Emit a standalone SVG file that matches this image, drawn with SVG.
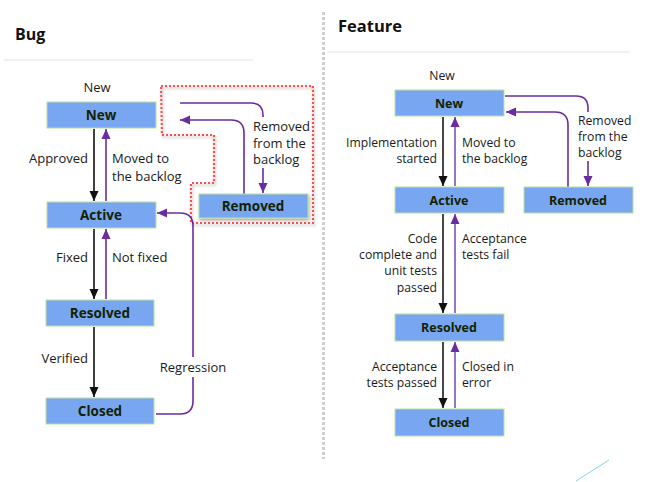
<svg xmlns="http://www.w3.org/2000/svg" width="660" height="482" viewBox="0 0 660 482">
<defs>
<marker id="ak" markerUnits="userSpaceOnUse" markerWidth="10" markerHeight="10" refX="10" refY="5" orient="auto"><path d="M0,0.5 L10,5 L0,9.5 z" fill="#111"/></marker>
<marker id="ap" markerUnits="userSpaceOnUse" markerWidth="10" markerHeight="10" refX="10" refY="5" orient="auto"><path d="M0,0.5 L10,5 L0,9.5 z" fill="#6a2c9e"/></marker>
<filter id="sh" x="-20%" y="-50%" width="140%" height="200%"><feGaussianBlur in="SourceAlpha" stdDeviation="1.5"/><feOffset dx="1" dy="2"/><feComponentTransfer><feFuncA type="linear" slope="0.35"/></feComponentTransfer><feMerge><feMergeNode/><feMergeNode in="SourceGraphic"/></feMerge></filter>
</defs>
<style>
.box{fill:#79a6f1;stroke:#b8e29a;stroke-width:1}
.bl{font-family:"Open Sans","Noto Sans",sans-serif;font-weight:bold;fill:#142200;text-anchor:middle}
.b1{font-size:13.5px}
.f1{font-size:12.5px}
.lb{font-family:"Open Sans","Noto Sans",sans-serif;fill:#1a1a1a;font-size:13px}
.lf{font-family:"Open Sans","Noto Sans",sans-serif;fill:#1a1a1a;font-size:12.2px}
.r{text-anchor:end}
.m{text-anchor:middle}
.k{stroke:#111;stroke-width:1.6;fill:none}
.kf{stroke:#333;stroke-width:1.8;fill:none}
.p{stroke:#6a2c9e;stroke-width:1.6;fill:none}
.pf{stroke:#8a68c0;stroke-width:1.8;fill:none}
.t{font-family:"Open Sans","Noto Sans",sans-serif;font-weight:bold;fill:#111}
</style>
<rect width="660" height="482" fill="#fff"/>
<g id="titles">
<text class="t" x="15" y="40" font-size="16">Bug</text>
<line x1="4" y1="60" x2="253" y2="60" stroke="#e3e3e3" stroke-width="1.2"/>
<text class="t" x="338" y="32" font-size="16.5">Feature</text>
<line x1="327" y1="52" x2="630" y2="52" stroke="#e3e3e3" stroke-width="1.2"/>
<line x1="323.5" y1="12" x2="323.5" y2="459" stroke="#cfcfcf" stroke-width="3" stroke-dasharray="3 2"/>
<line x1="609" y1="460" x2="576" y2="481" stroke="#88d4f0" stroke-width="1"/>
</g>
<path id="highlight" d="M161,86 H313 V223 H191 V183 H214 V135 H162 Z" fill="none" stroke="#ff5050" stroke-width="2.2" stroke-dasharray="2 2" filter="url(#sh)"/>
<g id="connectors">
<path class="k" d="M94,129 V201" marker-end="url(#ak)"/>
<path class="p" d="M106,201 V129" marker-end="url(#ap)"/>
<path class="k" d="M94,229 V299" marker-end="url(#ak)"/>
<path class="p" d="M106,299 V229" marker-end="url(#ap)"/>
<path class="k" d="M94,327 V397" marker-end="url(#ak)"/>
<path class="p" d="M156,414 H180 Q193,414 193,401 V377"/>
<path class="p" d="M193,357 V226 Q193,213 180,213 H157" marker-end="url(#ap)"/>
<path class="p" d="M155,313 H193" stroke-width="2.4" marker-end="url(#ap)" filter="url(#sh)"/>
<path class="p" d="M180,103 H251 Q263,103 263,115 V117"/>
<path class="p" d="M263,168 V193" marker-end="url(#ap)"/>
<path class="p" d="M244,194 V133 Q244,120 231,120 H180" marker-end="url(#ap)"/>
<path class="kf" d="M443,117 V186" marker-end="url(#ak)"/>
<path class="pf" d="M455,186 V117" marker-end="url(#ap)"/>
<path class="kf" d="M443,214 V313" marker-end="url(#ak)"/>
<path class="pf" d="M455,313 V214" marker-end="url(#ap)"/>
<path class="kf" d="M443,342 V408" marker-end="url(#ak)"/>
<path class="pf" d="M455,408 V342" marker-end="url(#ap)"/>
<path class="p" d="M505,96 H576 Q588,96 588,108 V112"/>
<path class="p" d="M588,161 V186" marker-end="url(#ap)"/>
<path class="p" d="M568,187 V125 Q568,112 555,112 H506" marker-end="url(#ap)"/>
</g>
<g id="labels">
<text class="lb m" x="97" y="92">New</text>
<text class="lb r" x="88" y="163">Approved</text>
<text class="lb" x="112" y="163">Moved to</text>
<text class="lb" x="112" y="181">the backlog</text>
<text class="lb r" x="88" y="262">Fixed</text>
<text class="lb" x="112" y="262">Not fixed</text>
<text class="lb r" x="88" y="363">Verified</text>
<text class="lb m" x="193" y="372">Regression</text>
<text class="lb" x="253" y="131">Removed</text>
<text class="lb" x="253" y="147.5">from the</text>
<text class="lb" x="253" y="164">backlog</text>
<text class="lf m" x="442" y="80">New</text>
<text class="lf r" x="437" y="147">Implementation</text>
<text class="lf r" x="437" y="163">started</text>
<text class="lf" x="462" y="147">Moved to</text>
<text class="lf" x="462" y="163">the backlog</text>
<text class="lf r" x="437" y="243">Code</text>
<text class="lf r" x="437" y="259">complete and</text>
<text class="lf r" x="437" y="275">unit tests</text>
<text class="lf r" x="437" y="292">passed</text>
<text class="lf" x="462" y="243">Acceptance</text>
<text class="lf" x="462" y="259">tests fail</text>
<text class="lf r" x="437" y="371">Acceptance</text>
<text class="lf r" x="437" y="387">tests passed</text>
<text class="lf" x="462" y="371">Closed in</text>
<text class="lf" x="462" y="387">error</text>
<text class="lf" x="578" y="125">Removed</text>
<text class="lf" x="578" y="141">from the</text>
<text class="lf" x="578" y="157">backlog</text>
</g>
<g id="bug-new"><rect class="box" x="47" y="102" width="109" height="26"/><text class="bl b1" x="101" y="120">New</text></g>
<g id="bug-active"><rect class="box" x="47" y="202" width="109" height="26"/><text class="bl b1" x="101" y="220">Active</text></g>
<g id="bug-resolved"><rect class="box" x="46" y="300" width="108" height="26"/><text class="bl b1" x="100" y="318">Resolved</text></g>
<g id="bug-closed"><rect class="box" x="46" y="398" width="108" height="26"/><text class="bl b1" x="100" y="416">Closed</text></g>
<g id="bug-removed"><rect class="box" x="199" y="194" width="109" height="24" filter="url(#sh)"/><text class="bl b1" x="253" y="211">Removed</text></g>
<g id="feat-new"><rect class="box" x="395" y="90" width="109" height="26"/><text class="bl f1" x="449" y="108">New</text></g>
<g id="feat-active"><rect class="box" x="395" y="187" width="109" height="26"/><text class="bl f1" x="449" y="205">Active</text></g>
<g id="feat-removed"><rect class="box" x="524" y="187" width="109" height="26"/><text class="bl f1" x="578" y="205">Removed</text></g>
<g id="feat-resolved"><rect class="box" x="395" y="314" width="109" height="27"/><text class="bl f1" x="449" y="332">Resolved</text></g>
<g id="feat-closed"><rect class="box" x="395" y="409" width="109" height="27"/><text class="bl f1" x="449" y="427">Closed</text></g>
</svg>
